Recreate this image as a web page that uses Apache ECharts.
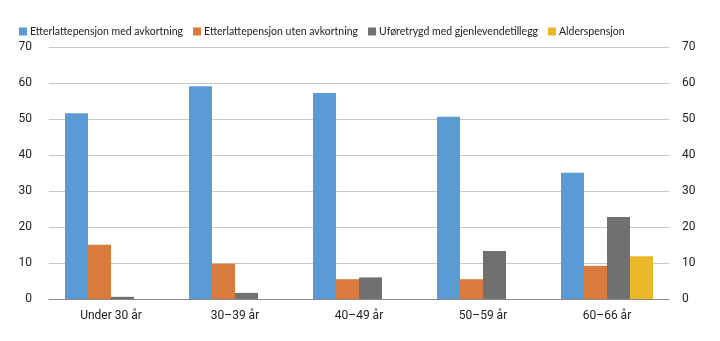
<!DOCTYPE html>
<html><head><meta charset="utf-8">
<script src="https://cdn.jsdelivr.net/npm/echarts@6/dist/echarts.min.js"></script>
<style>html,body{margin:0;padding:0;background:#fff}#c{width:720px;height:341px}</style>
</head><body><div id="c"></div>
<script>
const categories = ['Under 30 år', '30–39 år', '40–49 år', '50–59 år', '60–66 år'];
const seriesNames = ['Etterlattepensjon med avkortning', 'Etterlattepensjon uten avkortning', 'Uføretrygd med gjenlevendetillegg', 'Alderspensjon'];
const medAvkortning = [51.6, 59.1, 57.2, 50.6, 35.1];
const utenAvkortning = [15.1, 9.8, 5.5, 5.5, 9.2];
const uforetrygd = [0.6, 1.7, 6.0, 13.3, 22.8];
const alderspensjon = ['-', '-', '-', '-', 11.9];
const yTicks = [0, 10, 20, 30, 40, 50, 60, 70];
const colors = ['#5B9BD5', '#D87B3C', '#707070', '#EBB82C'];
const FONT = 'Roboto, sans-serif';
const LEGEND_FONT = 'Lato, Roboto, sans-serif';

const chart = echarts.init(document.getElementById('c'));
const values = [medAvkortning, utenAvkortning, uforetrygd, alderspensjon];
const yAxisBase = {
  type: 'value', min: yTicks[0], max: yTicks[yTicks.length - 1], interval: 10,
  axisLine: {show: false}, axisTick: {show: false}
};
chart.setOption({
  animation: false,
  color: colors,
  textStyle: {fontFamily: FONT},
  legend: {
    top: 21, left: 14, itemWidth: 8, itemHeight: 8, itemGap: 10,
    icon: 'rect',
    textStyle: {fontSize: 10.5, color: '#222', fontFamily: LEGEND_FONT, padding: [0, 0, 0, -2]},
    data: seriesNames
  },
  grid: {left: 49, right: 51, top: 47, bottom: 42},
  xAxis: {
    type: 'category', data: categories,
    axisLine: {lineStyle: {color: '#8a8a8a', width: 1}},
    axisTick: {inside: true, length: 3, lineStyle: {color: '#555'}},
    axisLabel: {color: '#222', fontSize: 12, fontFamily: FONT, margin: 11}
  },
  yAxis: [
    Object.assign({}, yAxisBase, {position: 'left',
      axisLabel: {color: '#222', fontSize: 12, fontFamily: FONT, margin: 17},
      splitLine: {lineStyle: {color: '#c8c8c8', width: 1}}}),
    Object.assign({}, yAxisBase, {position: 'right',
      axisLabel: {color: '#222', fontSize: 12, fontFamily: FONT, margin: 13},
      splitLine: {show: false}})
  ],
  series: seriesNames.map((n, i) => ({
    name: n, type: 'bar', data: values[i], barWidth: 23, barGap: '0%',
    itemStyle: {color: colors[i]}
  }))
});
</script></body></html>
